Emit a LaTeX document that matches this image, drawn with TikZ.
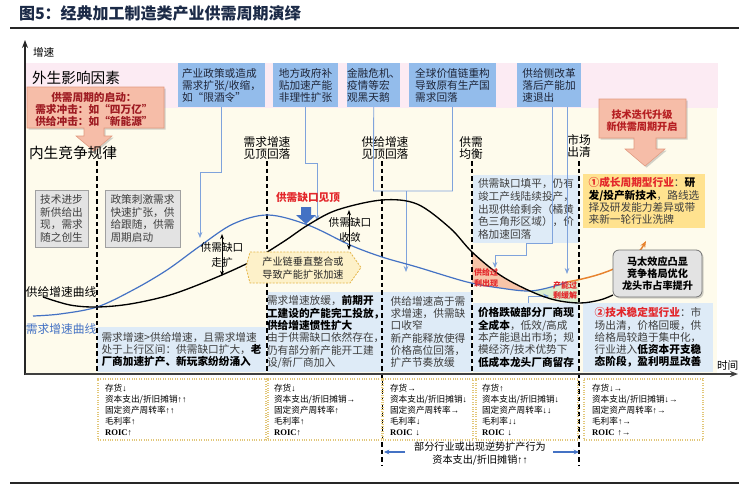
\documentclass[tikz,border=0pt]{standalone}
\usepackage{fontspec}
\setmainfont{Noto Sans CJK SC}
\newfontfamily\serifarr{Liberation Serif}
\usetikzlibrary{arrows.meta,shadows}
\definecolor{pinkbg}{HTML}{FCEBF3}
\definecolor{creambg}{HTML}{FEFBEC}
\definecolor{topblue}{HTML}{93BCEB}
\definecolor{lblue}{HTML}{DEEBF7}
\definecolor{curveblue}{HTML}{4472C4}
\definecolor{linkblue}{HTML}{7FA3DC}
\definecolor{salmon}{HTML}{F6BDA8}
\definecolor{salmonedge}{HTML}{E29A80}
\definecolor{darkred}{HTML}{9E1B22}
\definecolor{brightred}{HTML}{E3262A}
\definecolor{yellowbox}{HTML}{FFE28F}
\definecolor{graybox}{HTML}{E3E3E3}
\definecolor{grayedge}{HTML}{A0A0A0}
\definecolor{dotyellow}{HTML}{E2C77A}
\definecolor{orangeline}{HTML}{E7832F}
\definecolor{greenfill}{HTML}{DCEECF}
\definecolor{salmonfill}{HTML}{F7C4A8}
\definecolor{titlecol}{HTML}{1B2A47}
\definecolor{navytxt}{HTML}{1E2538}
\definecolor{txtgray}{HTML}{3F3F3F}
\definecolor{chainfill}{HTML}{FDF1C9}
\definecolor{chainedge}{HTML}{E5B64A}
\newcommand{\kbf}[1]{\textbf{\color{black}#1}}
\newcommand{\myup}{{\serifarr ↑}}
\newcommand{\mydn}{{\serifarr ↓}}
\newcommand{\myrt}{{\serifarr →}}
\newcommand{\roic}{{\serifarr\bfseries ROIC}}
\begin{document}
\begin{tikzpicture}[x=0.75pt,y=-0.75pt,
  every node/.style={inner sep=0pt,outer sep=0pt},
  rbox/.style 2 args={rectangle,minimum width=#1*0.75pt,minimum height=#2*0.75pt,anchor=north west},
  topbox/.style={fill=topblue,align=left,text=navytxt,font=\fontsize{8}{9}\selectfont},
  bluetxt/.style={fill=lblue,align=left,text=txtgray,font=\fontsize{8}{9.2}\selectfont},
  graytxt/.style={fill=graybox,draw=grayedge,line width=0.6pt,align=left,text=txtgray,font=\fontsize{8}{9.5}\selectfont},
  lab/.style={align=center,text=black,font=\fontsize{8.8}{9}\selectfont},
  dashline/.style={draw=black,line width=0.9pt,dash pattern=on 3.5pt off 2.2pt},
  link/.style={draw=linkblue,line width=0.6pt},
  linkarr/.style={link,-{Stealth[length=4.5pt,width=3.5pt]}},
  dbl/.style={draw=black,line width=0.6pt,{Stealth[length=4pt,width=3pt]}-{Stealth[length=4pt,width=3pt]}},
  bbox/.style={draw=dotyellow,densely dotted,line width=0.8pt,fill=white,align=left,text=black,font=\fontsize{6.5}{8.25}\selectfont},
  callout/.style={fill=salmon,draw=salmonedge,line width=0.4pt,drop shadow={shadow xshift=1.2pt,shadow yshift=-1.2pt,opacity=0.35}},
]
\fill[white] (0,0) rectangle (739,486);
\useasboundingbox (0,0) rectangle (739,486);
\node[anchor=west,font=\fontsize{12}{14}\selectfont\bfseries,text=titlecol] (title) at (19,13) {图5：经典加工制造类产业供需周期演绎};
\draw[line width=1.5pt,black!85] (10,28) -- (739,28);
\draw[line width=1.5pt,black!85] (10,483) -- (739,483);

\fill[pinkbg] (25,63) rectangle (718,108);
\fill[creambg] (25,108) rectangle (717,374);
\draw[line width=1.1pt,black!85,-{Stealth[length=6pt,width=4.5pt]}] (25,375) -- (25,40);
\node[anchor=west,font=\fontsize{8}{9}\selectfont] (yl) at (33,52) {增速};
\node[anchor=west,font=\fontsize{11}{12}\selectfont] (ext) at (32,78) {外生影响因素};

% top boxes
\node[rbox={87}{44},topbox] (b1) at (178,63) {产业政策或造成\\需求扩张/收缩，\\如“限酒令”};
\node[rbox={65}{44},topbox] (b2) at (273,63) {地方政府补\\贴加速产能\\非理性扩张};
\node[rbox={53}{44},topbox] (b3) at (347,63) {金融危机、\\疫情等宏\\观黑天鹅};
\node[rbox={87}{44},topbox] (b4) at (409,63) {全球价值链重构\\导致原有生产国\\需求回落};
\node[rbox={64}{44},topbox] (b5) at (517,63) {供给侧改革\\落后产能加\\速退出};

% callouts
\path[callout] (27,87) -- (164,87) -- (164,128) -- (104,128) -- (104,136) -- (112,136) -- (94,151) -- (76,136) -- (84,136) -- (84,128) -- (27,128) -- cycle;
\node[align=center,text=darkred,font=\fontsize{8}{9}\selectfont\bfseries] (start) at (94,109) {供需周期的启动：\\需求冲击：如“四万亿”\\供给冲击：如“新能源”};
\node[anchor=west,font=\fontsize{11}{12}\selectfont] (int) at (29,153) {内生竞争规律};
\path[callout] (599,99) -- (686,99) -- (686,138) -- (656,138) -- (656,149) -- (665,149) -- (645,166) -- (625,149) -- (634,149) -- (634,138) -- (599,138) -- cycle;
\node[align=center,text=brightred!80!black,font=\fontsize{7.6}{9}\selectfont\bfseries] (tech) at (642,121) {技术迭代升级\\新供需周期开启};

% gray boxes
\node[rbox={53}{57},graytxt] (g1) at (35,190) {技术进步\\新供给出\\现，需求\\随之创生};
\node[rbox={75}{57},graytxt] (g2) at (105,190) {政策刺激需求\\快速扩张，供\\给跟随，供需\\周期启动};

% filled regions
\begin{scope}
\clip (472,150) rectangle (579,320);
\clip plot[smooth,tension=0.55] coordinates {(43,297)(70,305)(97,307)(130,304)(170,295)(210,280)(250,262)(283,242)(308,225)(337,210)(382,200)(417,204)(450,228)(472,252)(500,275)(530,291)(555,300)(580,303)(600,300)(613,295)} -- (613,400) -- (43,400) -- cycle;
\fill[salmonfill] plot[smooth,tension=0.55] coordinates {(33,316)(60,314)(97,307)(133,290)(167,270)(200,246)(233,224)(268,215)(308,225)(350,245)(382,257)(417,267)(467,282)(500,288)(530,291)(555,286)(567,282)} -- (567,100) -- (33,100) -- cycle;
\end{scope}
\begin{scope}
\clip (472,150) rectangle (579,320);
\clip plot[smooth,tension=0.55] coordinates {(43,297)(70,305)(97,307)(130,304)(170,295)(210,280)(250,262)(283,242)(308,225)(337,210)(382,200)(417,204)(450,228)(472,252)(500,275)(530,291)(555,300)(580,303)(600,300)(613,295)} -- (613,100) -- (43,100) -- cycle;
\fill[greenfill] plot[smooth,tension=0.55] coordinates {(33,316)(60,314)(97,307)(133,290)(167,270)(200,246)(233,224)(268,215)(308,225)(350,245)(382,257)(417,267)(467,282)(500,288)(530,291)(555,286)(567,282)} -- (580,279) -- (580,400) -- (33,400) -- cycle;
\end{scope}

% text boxes
\node[rbox={169}{45},bluetxt] (bA) at (97,327) {需求增速>供给增速，且需求增速\\处于上行区间：供需缺口扩大，\kbf{老}\\\kbf{厂商加速扩产、新玩家纷纷涌入}};
\node[rbox={115}{80},bluetxt] (bB) at (267,292) {需求增速放缓，\kbf{前期开}\\\kbf{工建设的产能完工投放，}\\\kbf{供给增速惯性扩大}\\由于供需缺口依然存在，\\仍有部分新产能开工建\\设/新厂商加入};
\node[rbox={88}{80},bluetxt] (bC) at (384,292) {供给增速高于需\\求增速，供需缺\\口收窄\\新产能释放使得\\价格高位回落，\\扩产节奏放缓};
\node[rbox={106}{69},bluetxt] (bD) at (473,303) {\kbf{价格跌破部分厂商现}\\\kbf{全成本}，低效/高成\\本产能退出市场；规\\模经济/技术优势下\\\kbf{低成本龙头厂商留存}};
\node[rbox={130}{69},bluetxt] (bE) at (583,303) {\textbf{\color{brightred}②技术稳定型行业}：市\\场出清，价格回暖，供\\给格局较趋于集中化，\\行业进入\kbf{低资本开支稳}\\\kbf{态阶段，盈利明显改善}};
\node[rbox={106}{68},bluetxt,font=\fontsize{8}{9.6}\selectfont] (bF) at (473,175) {供需缺口填平，仍有\\竣工产线陆续投产，\\出现供给剩余（橘黄\\色三角形区域），价\\格加速回落};
\node[rbox={122}{54},fill=yellowbox,align=left,text=txtgray,font=\fontsize{8}{9.2}\selectfont] (yel) at (583,174) {\textbf{\color{brightred}①成长周期型行业}：\kbf{研}\\\kbf{发/投产新技术}，路线选\\择及研发能力差异或带\\来新一轮行业洗牌};

% dashed lines and labels
\node[lab] (l1) at (267,148) {需求增速\\见顶回落};
\node[lab] (l2) at (385,148) {供给增速\\见顶回落};
\node[lab] (l3) at (471,148) {供需\\均衡};
\node[lab] (l4) at (579,146) {市场\\出清};
\coordinate (d0t) at (97,161); \coordinate (d0b) at (97,374);
\coordinate (d1t) at (267,161); \coordinate (d1b) at (267,374);
\coordinate (d2t) at (382,161); \coordinate (d2b) at (382,466);
\coordinate (d3t) at (472,161); \coordinate (d3b) at (472,374);
\coordinate (d4t) at (579,161); \coordinate (d4b) at (579,466);
\draw[dashline] (d0t) -- (d0b);
\draw[dashline] (d1t) -- (d1b);
\draw[dashline] (d2t) -- (d2b);
\draw[dashline] (d3t) -- (d3b);
\draw[dashline] (d4t) -- (d4b);

% connectors
\coordinate (e5a) at (495,268);
\coordinate (e5b) at (567,274);
\draw[linkarr] (b1.south) -- (221.5,172) -- (200,172) -- (200,238);
\draw[linkarr] (b2.south) -- (305.5,163) -- (317,163) -- (317,221);
\draw[link] (b3.south) -- (373.5,191) -- (452.5,191) -- (b4.south);
\draw[linkarr] (406,191) -- (406,272);
\draw[linkarr] ([xshift=2.25pt]b5.south) -- (552,243) -- (526,243) -- (526,255) -- (495,255) -- (e5a);
\draw[linkarr] (b5.south -| e5b) -- (e5b);
\draw[linkarr] (528,303) -- (528,296) -- (549,296);

% curves
\draw[curveblue,line width=0.9pt] plot[smooth,tension=0.55] coordinates {(33,316)(60,314)(97,307)(133,290)(167,270)(200,246)(233,224)(268,215)(308,225)(350,245)(382,257)(417,267)(467,282)(500,288)(530,291)(555,286)(567,282)};
\draw[black,line width=1pt] plot[smooth,tension=0.55] coordinates {(43,297)(70,305)(97,307)(130,304)(170,295)(210,280)(250,262)(283,242)(308,225)(337,210)(382,200)(417,204)(450,228)(472,252)(500,275)(530,291)(555,300)(580,303)(600,300)(613,295)};
\draw[orangeline,line width=1.1pt,-{Stealth[length=5pt,width=4pt]}] (567,282) .. controls (600,276) and (632,266) .. (646,241);
\node[rbox={89}{47},rounded corners=4.5pt,fill=graybox,draw=black!55,line width=0.6pt,drop shadow={shadow xshift=1.2pt,shadow yshift=-1.2pt,opacity=0.35},align=center,font=\fontsize{7.6}{9}\selectfont\bfseries] (matthew) at (613,250) {马太效应凸显\\竞争格局优化\\龙头市占率提升};

% chain shape (over the curves)
\path[fill=chainfill,draw=chainedge,line width=0.6pt,dash pattern=on 1.5pt off 1pt] (250,252) -- (350,252) -- (361,267.5) -- (350,283) -- (250,283) -- (246,267.5) -- cycle;
\node[align=center,font=\fontsize{7.6}{9.5}\selectfont,text=black!85] (chain) at (303,268) {产业链垂直整合或\\导致产能扩张加速};

\node[anchor=west,font=\fontsize{8.8}{9}\selectfont] (sl) at (26,292) {供给增速曲线};
\node[anchor=west,font=\fontsize{8.8}{9}\selectfont,text=curveblue] (dl) at (26,329) {需求增速曲线};

% gap labels
\node[font=\fontsize{8}{9}\selectfont\bfseries,text=brightred] (peak) at (308,197) {供需缺口见顶};
\fill[curveblue] (301,207) -- (311,207) -- (311,215) -- (316,215) -- (306,224) -- (296,215) -- (301,215) -- cycle;
\node[align=center,font=\fontsize{6}{8}\selectfont\bfseries,text=brightred] (over) at (486,278) {供给过\\剩出现};
\node[align=center,font=\fontsize{6}{7.5}\selectfont\bfseries,text=brightred] (relief) at (565,290) {产能过\\剩缓解};
\coordinate (ga1) at (222,234); \coordinate (ga2) at (222,276);
\draw[dbl] (ga1) -- (ga2);
\node[align=center,font=\fontsize{8}{11.25}\selectfont] (gap1) at (222,254.5) {供需缺口\\走扩};
\coordinate (gb1) at (349,210); \coordinate (gb2) at (349,250);
\draw[dbl] (gb1) -- (gb2);
\node[align=center,font=\fontsize{8}{11.25}\selectfont] (gap2) at (350,229.5) {供需缺口\\收敛};

% x axis
\draw[line width=1.3pt,black!75,-{Stealth[length=6pt,width=4.5pt]}] (25,374) -- (738,374);
\node[anchor=west,font=\fontsize{8}{9}\selectfont] (xl) at (717,365) {时间};

% bottom boxes
\node[rbox={168}{61},bbox,text width=115.5pt,inner xsep=5.25pt] (k1) at (98,379) {存货\mydn\\资本支出/折旧摊销\myup\myup\\固定资产周转率\myup\myup\\毛利率\myup\\\roic\myup};
\node[rbox={114}{61},bbox,text width=76.5pt,inner xsep=4.5pt] (k2) at (268,379) {存货\mydn\\资本支出/折旧摊销\myrt\\固定资产周转率\myup\\毛利率\myup\\\roic\myup};
\node[rbox={90}{61},bbox,text width=57pt,inner xsep=5.25pt] (k3) at (383,379) {存货\myrt\\资本支出/折旧摊销\mydn\\固定资产周转率\myrt\\毛利率\mydn\\\roic\ \mydn};
\node[rbox={102}{61},bbox,text width=67.5pt,inner xsep=4.5pt] (k4) at (476,379) {存货\myup\\资本支出/折旧摊销\mydn\\固定资产周转率\mydn\mydn\\毛利率\mydn\mydn\\\roic\ \mydn};
\node[rbox={119}{61},bbox,text width=77.25pt,inner xsep=6pt] (k5) at (584,379) {存货\mydn\myrt\\资本支出/折旧摊销\mydn\myrt\\固定资产周转率\myup\myrt\\毛利率\myup\myrt\\\roic\ \myup\myrt};

\node[align=center,font=\fontsize{7.6}{9.75}\selectfont,text=black] (note) at (480,453.5) {部分行业或出现逆势扩产行为\\资本支出/折旧摊销\myup\myup};
\coordinate (nl1) at (405,452); \coordinate (nl2) at (384,452);
\coordinate (nr1) at (553,452); \coordinate (nr2) at (579,452);
\draw[curveblue,line width=1pt,-{Stealth[length=4pt,width=3.5pt]}] (nl1) -- (nl2);
\draw[curveblue,line width=1pt,-{Stealth[length=4pt,width=3.5pt]}] (nr1) -- (nr2);
\end{tikzpicture}
\end{document}
